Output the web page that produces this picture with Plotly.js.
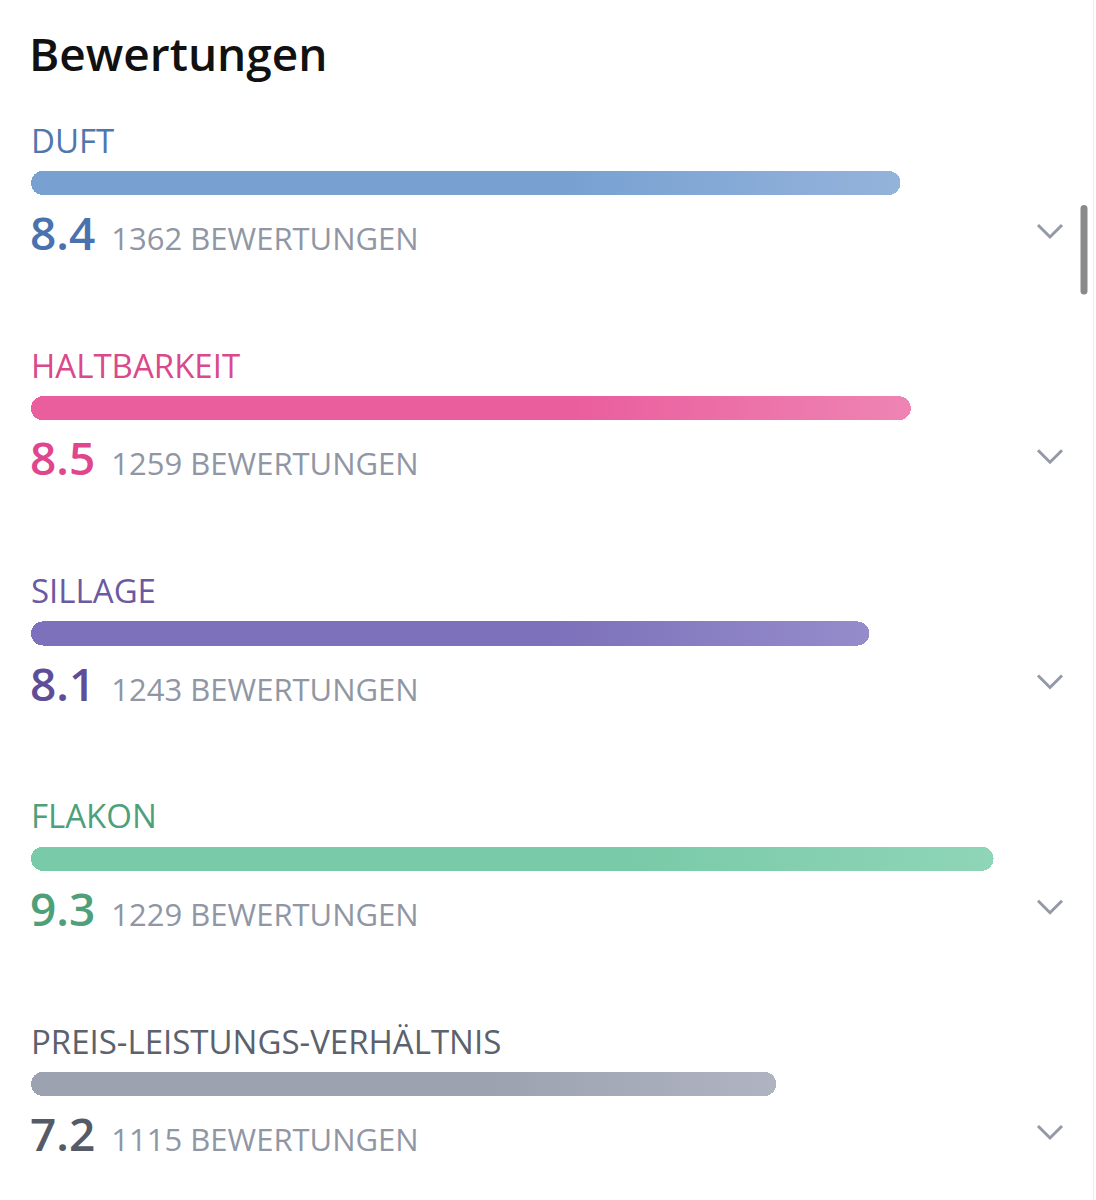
<!DOCTYPE html>
<html>
<head>
<meta charset="utf-8">
<script src="https://cdn.plot.ly/plotly-3.0.1.min.js"></script>
<style>
  html, body { margin: 0; padding: 0; background: #ffffff; }
  #chart { width: 1096px; height: 1200px; }
</style>
</head>
<body>
<div id="chart"></div>
<script>
// Rating categories and their scores (scale 0 to 10)
const categories = ['DUFT', 'HALTBARKEIT', 'SILLAGE', 'FLAKON', 'PREIS-LEISTUNGS-VERHÄLTNIS'];
const scores = [8.4, 8.5, 8.1, 9.3, 7.2];
const voteCounts = [1362, 1259, 1243, 1229, 1115];
const countSuffix = 'BEWERTUNGEN';
const heading = 'Bewertungen';

// Per-category colours: label, bar start, bar end, score
const labelColors = ['#4f77ab', '#d9498b', '#6a5a9f', '#4e9f7c', '#5b616d'];
const barColors = ['#78a1d2', '#ea5e9d', '#7c71ba', '#79caa8', '#9da2b1'];
const barEndColors = ['#94b3db', '#ee84b4', '#958ccb', '#8fd5b8', '#b0b4c1'];
const scoreColors = ['#4a72ae', '#e0468e', '#5e4e99', '#4f9f7a', '#545b67'];

const rows = categories.map((_, i) => i);
const countGrey = '#9096a3';
const chevronGrey = '#9399a6';

const barTrace = {
  type: 'bar',
  orientation: 'h',
  x: scores,
  y: rows,
  base: 0,
  width: 0.107,
  marker: {
    color: barColors,
    cornerradius: 12,
    line: { width: 0 }
  },
  hoverinfo: 'skip',
  showlegend: false
};

const annotations = [];
const shapes = [];
rows.forEach(i => {
  // category name above the bar
  annotations.push({
    xref: 'x', yref: 'y', x: 0, y: i,
    xanchor: 'left', yanchor: 'middle',
    xshift: -2, yshift: 43,
    showarrow: false,
    text: categories[i],
    font: { family: 'Open Sans', size: 33, color: labelColors[i] }
  });
  // score and number of ratings below the bar
  annotations.push({
    xref: 'x', yref: 'y', x: 0, y: i,
    xanchor: 'left', yanchor: 'middle',
    xshift: -3, yshift: -49,
    showarrow: false,
    text: '<span style="font-size:46px;font-weight:600;fill:' + scoreColors[i] + '">' +
          scores[i].toFixed(1) + '</span>' +
          '<span style="font-size:31px;fill:' + countGrey + '">  ' +
          voteCounts[i] + ' ' + countSuffix + '</span>',
    font: { family: 'Open Sans', size: 31, color: countGrey }
  });
  // expand chevron on the right
  shapes.push({
    type: 'path',
    xref: 'paper', yref: 'y',
    xsizemode: 'pixel', ysizemode: 'pixel',
    xanchor: 1050 / 1096, yanchor: i,
    path: 'M-12,-42 L0,-54 L12,-42',
    line: { color: chevronGrey, width: 3 }
  });
});

// scrollbar and right edge of the panel
shapes.push({
  type: 'line', xref: 'paper', yref: 'paper',
  x0: 1093.5 / 1096, x1: 1093.5 / 1096, y0: 0, y1: 1,
  line: { color: '#ececec', width: 1 }
});
shapes.push({
  type: 'path', xref: 'paper', yref: 'paper',
  xsizemode: 'pixel', ysizemode: 'pixel',
  xanchor: 1084 / 1096, yanchor: 1 - 205 / 1200,
  path: 'M-3.5,-3.5 Q-3.5,0 0,0 Q3.5,0 3.5,-3.5 L3.5,-86 Q3.5,-89.5 0,-89.5 Q-3.5,-89.5 -3.5,-86 Z',
  fillcolor: '#8a8a8a',
  line: { width: 0 }
});

const layout = {
  width: 1096,
  height: 1200,
  margin: { l: 0, r: 0, t: 0, b: 0, pad: 0 },
  paper_bgcolor: '#ffffff',
  plot_bgcolor: '#ffffff',
  title: {
    text: heading,
    font: { family: 'Open Sans', size: 46, color: '#111111', weight: 600 },
    xref: 'paper', yref: 'paper',
    x: 29 / 1096, xanchor: 'left',
    y: 1 - 55 / 1200, yanchor: 'middle'
  },
  xaxis: {
    range: [-31 / 103.5, (1096 - 31) / 103.5],
    visible: false,
    fixedrange: true
  },
  yaxis: {
    range: [(1200 - 183) / 225.25, -183 / 225.25],
    visible: false,
    fixedrange: true
  },
  bargap: 0,
  annotations: annotations,
  shapes: shapes,
  showlegend: false
};

Plotly.newPlot('chart', [barTrace], layout, { staticPlot: true, displayModeBar: false }).then(gd => {
  // soft horizontal gradient towards the end of each bar
  const svg = gd.querySelector('svg.main-svg');
  const ns = 'http://www.w3.org/2000/svg';
  let defs = svg.querySelector('defs');
  if (!defs) { defs = document.createElementNS(ns, 'defs'); svg.insertBefore(defs, svg.firstChild); }
  const paths = gd.querySelectorAll('.bars .point path');
  paths.forEach((p, i) => {
    const g = document.createElementNS(ns, 'linearGradient');
    g.setAttribute('id', 'barfade' + i);
    g.setAttribute('x1', '0'); g.setAttribute('x2', '1');
    g.setAttribute('y1', '0'); g.setAttribute('y2', '0');
    [[0, barColors[i]], [0.62, barColors[i]], [1, barEndColors[i]]].forEach(([o, c]) => {
      const s = document.createElementNS(ns, 'stop');
      s.setAttribute('offset', o);
      s.setAttribute('stop-color', c);
      g.appendChild(s);
    });
    defs.appendChild(g);
    p.style.fill = 'url(#barfade' + i + ')';
  });
});
</script>
</body>
</html>
